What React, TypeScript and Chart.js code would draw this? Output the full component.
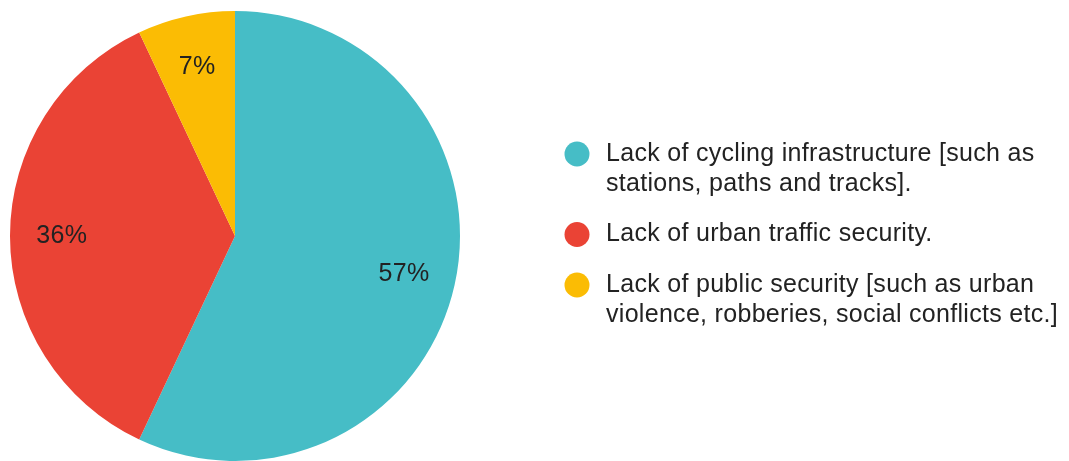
import React, { useEffect, useRef } from "react";
import { Chart, registerables } from "chart.js";

Chart.register(...registerables);

const categories = [
  "Lack of cycling infrastructure [such as stations, paths and tracks].",
  "Lack of urban traffic security.",
  "Lack of public security [such as urban violence, robberies, social conflicts etc.]",
];
const legendLines = [
  ["Lack of cycling infrastructure [such as", "stations, paths and tracks]."],
  ["Lack of urban traffic security."],
  ["Lack of public security [such as urban", "violence, robberies, social conflicts etc.]"],
];
const values = [57, 36, 7];
const colors = ["#46BDC6", "#EA4335", "#FBBC04"];

const FONT = "'Liberation Sans', Arial, sans-serif";

const sliceLabels = {
  id: "sliceLabels",
  afterDatasetsDraw(chart: any) {
    const ctx = chart.ctx;
    const meta = chart.getDatasetMeta(0);
    const total = values.reduce((a, b) => a + b, 0);
    ctx.save();
    ctx.font = `25px ${FONT}`;
    (ctx as any).letterSpacing = "0.3px";
    ctx.fillStyle = "#222222";
    ctx.textAlign = "center";
    ctx.textBaseline = "middle";
    meta.data.forEach((arc: any, i: number) => {
      const mid = (arc.startAngle + arc.endAngle) / 2;
      const r = arc.outerRadius * 0.77;
      const x = arc.x + Math.cos(mid) * r;
      const y = arc.y + Math.sin(mid) * r;
      ctx.fillText(Math.round((values[i] / total) * 100) + "%", x, y);
    });
    ctx.restore();
  },
};

const sideLegend = {
  id: "sideLegend",
  afterDraw(chart: any) {
    const ctx = chart.ctx;
    ctx.save();
    const circleX = 577;
    const textX = 606;
    const lineH = 30;
    const itemGap = 20.5;
    let y = 154;
    ctx.font = `25px ${FONT}`;
    (ctx as any).letterSpacing = "0.3px";
    ctx.textBaseline = "middle";
    ctx.textAlign = "left";
    legendLines.forEach((lines, i) => {
      ctx.fillStyle = colors[i];
      ctx.beginPath();
      ctx.arc(circleX, y, 12.5, 0, Math.PI * 2);
      ctx.fill();
      ctx.fillStyle = "#222222";
      lines.forEach((ln, j) => {
        ctx.fillText(ln, textX, y + j * lineH);
      });
      y += lines.length * lineH + itemGap;
    });
    ctx.restore();
  },
};

export default function App() {
  const ref = useRef<HTMLCanvasElement>(null);
  useEffect(() => {
    document.body.style.margin = "0";
    const chart = new Chart(ref.current!, {
      type: "pie",
      data: {
        labels: categories,
        datasets: [
          {
            data: values,
            backgroundColor: colors,
            borderWidth: 0,
          },
        ],
      },
      options: {
        responsive: false,
        animation: false,
        layout: { padding: { left: 10, top: 11, bottom: 0, right: 609 } },
        plugins: {
          legend: { display: false },
          tooltip: { enabled: false },
        },
      },
      plugins: [sliceLabels, sideLegend],
    });
    return () => chart.destroy();
  }, []);
  return (
    <canvas
      ref={ref}
      width={1069}
      height={461}
      style={{ display: "block", width: 1069, height: 461 }}
    />
  );
}
